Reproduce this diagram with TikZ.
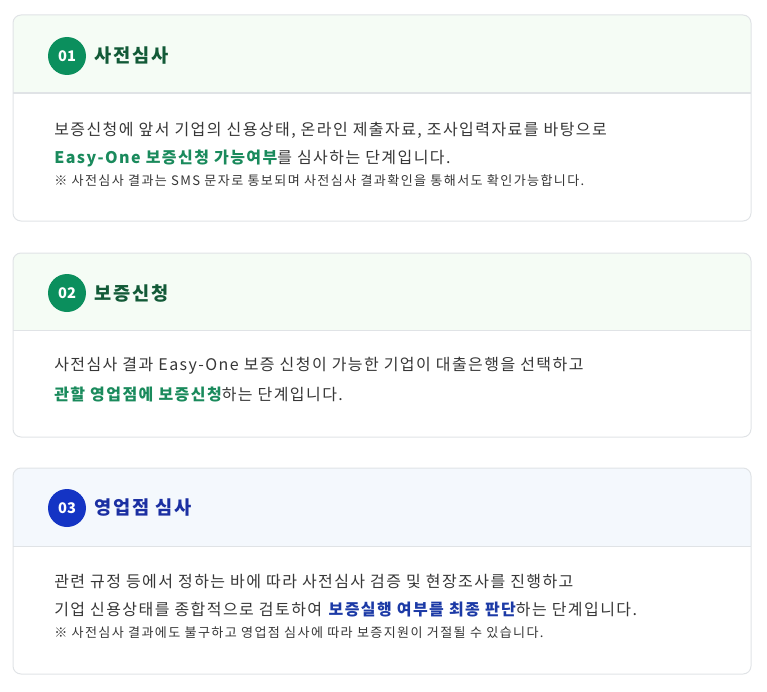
\documentclass[tikz,border=0pt]{standalone}
\usepackage{fontspec}
\setmainfont{Noto Sans CJK KR}
\newfontfamily\widefont{Noto Sans CJK KR}[LetterSpace=9]
\newfontfamily\notefont{Noto Sans CJK KR}[LetterSpace=10.5]
\newfontfamily\titlefont{Noto Sans CJK KR}[LetterSpace=10]
\usetikzlibrary{positioning}
\definecolor{cardline}{HTML}{E0E3E6}
\definecolor{greenhead}{HTML}{F5FCF5}
\definecolor{bluehead}{HTML}{F4F8FD}
\definecolor{greenball}{HTML}{0B8F5D}
\definecolor{blueball}{HTML}{1434C4}
\definecolor{greentitle}{HTML}{125A37}
\definecolor{bluetitle}{HTML}{1B2FA2}
\definecolor{greenmark}{HTML}{1A8A5C}
\definecolor{bluemark}{HTML}{1C3AA6}
\definecolor{bodytext}{HTML}{363636}
\tikzset{
  card/.style={draw=cardline, line width=0.75pt, rounded corners=6pt},
  divider/.style={draw=cardline, line width=0.75pt},
  ball/.style={circle, fill=#1, text=white, minimum size=28.5pt, inner sep=0pt,
    font=\fontsize{11}{13}\selectfont\bfseries},
  steptitle/.style={anchor=west, inner sep=0pt, text=#1,
    font=\titlefont\fontsize{14}{16}\selectfont\bfseries},
  bodyline/.style={anchor=west, inner sep=0pt, text=bodytext,
    font=\widefont\fontsize{12}{14}\selectfont},
  noteline/.style={anchor=west, inner sep=0pt, text=bodytext,
    font=\notefont\fontsize{9.8}{11}\selectfont}
}
\newcommand{\markg}[1]{\textbf{\color{greenmark}#1}}
\newcommand{\markb}[1]{\textbf{\color{bluemark}#1}}

\begin{document}
\begin{tikzpicture}[x=0.75pt,y=-0.75pt]
\useasboundingbox (0,0) rectangle (767,692);

% 01
\fill[greenhead] (13,93) [rounded corners=6pt] -- (13,15) -- (751,15) [sharp corners] -- (751,93) -- cycle;
\draw[divider] (13,93) -- (751,93);
\draw[card] (13,15) rectangle (751,221);
\node[ball=greenball] (num1) at (67,56) {01};
\node[steptitle=greentitle, right=6pt of num1] (title1) {사전심사};
\node[bodyline] (body1a) at (54,130) {보증신청에 앞서 기업의 신용상태, 온라인 제출자료, 조사입력자료를 바탕으로};
\node[bodyline] (body1b) at (54,158) {\markg{Easy-One 보증신청 가능여부}를 심사하는 단계입니다.};
\node[noteline] (note1) at (54,181) {※ 사전심사 결과는 SMS 문자로 통보되며 사전심사 결과확인을 통해서도 확인가능합니다.};

% 02
\fill[greenhead] (13,330) [rounded corners=6pt] -- (13,253) -- (751,253) [sharp corners] -- (751,330) -- cycle;
\draw[divider] (13,330) -- (751,330);
\draw[card] (13,253) rectangle (751,437);
\node[ball=greenball] (num2) at (67,293) {02};
\node[steptitle=greentitle, right=6pt of num2] (title2) {보증신청};
\node[bodyline] (body2a) at (54,366) {사전심사 결과 Easy-One 보증 신청이 가능한 기업이 대출은행을 선택하고};
\node[bodyline] (body2b) at (54,394) {\markg{관할 영업점에 보증신청}하는 단계입니다.};

% 03
\fill[bluehead] (13,546) [rounded corners=6pt] -- (13,468) -- (751,468) [sharp corners] -- (751,546) -- cycle;
\draw[divider] (13,546) -- (751,546);
\draw[card] (13,468) rectangle (751,674);
\node[ball=blueball] (num3) at (67,508) {03};
\node[steptitle=bluetitle, right=6pt of num3] (title3) {영업점 심사};
\node[bodyline] (body3a) at (54,582) {관련 규정 등에서 정하는 바에 따라 사전심사 검증 및 현장조사를 진행하고};
\node[bodyline] (body3b) at (54,610) {기업 신용상태를 종합적으로 검토하여 \markb{보증실행 여부를 최종 판단}하는 단계입니다.};
\node[noteline] (note3) at (54,633) {※ 사전심사 결과에도 불구하고 영업점 심사에 따라 보증지원이 거절될 수 있습니다.};
\end{tikzpicture}
\end{document}
